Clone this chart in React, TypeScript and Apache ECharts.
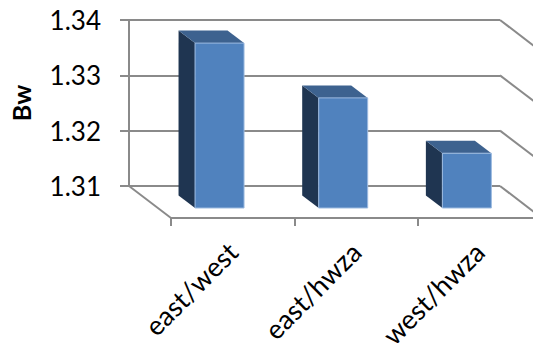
import React, { useEffect, useRef } from "react";
import * as echarts from "echarts";

const categories = ["east/west", "east/hwza", "west/hwza"];
const bwValues = [1.3398, 1.3299, 1.3199];
const axisLevels = [1.31, 1.32, 1.33, 1.34];

const WALL_COLOR = "#8a8a8a";
const FRONT_COLOR = "#5082be";
const SIDE_COLOR = "#1f3551";
const TOP_COLOR = "#3d628f";
const EDGE_COLOR = "#9dbbe0";
const FONT = "Lato, 'Noto Sans', sans-serif";

// Oblique projection used for the box faces and the floor edges.
const DEPTH_X = 16.5;
const DEPTH_Y = 12.5;
const FACE_WIDTH = 49;
const FRONT_SHIFT_X = 28.7;
const FRONT_SHIFT_Y = 22;
const FLOOR_DX = 42;
const FLOOR_DY = 32;

function renderBar(_params: any, api: any) {
  const [cx, yTop] = api.coord([api.value(0), api.value(1)]);
  const [, yBase] = api.coord([api.value(0), axisLevels[0]]);
  const left = cx + FRONT_SHIFT_X - FACE_WIDTH / 2;
  const right = left + FACE_WIDTH;
  const top = yTop + FRONT_SHIFT_Y;
  const bottom = yBase + FRONT_SHIFT_Y;
  return {
    type: "group",
    children: [
      {
        type: "polygon",
        shape: {
          points: [
            [left, top],
            [left - DEPTH_X, top - DEPTH_Y],
            [left - DEPTH_X, bottom - DEPTH_Y],
            [left, bottom],
          ],
        },
        style: { fill: SIDE_COLOR },
      },
      {
        type: "polygon",
        shape: {
          points: [
            [left, top],
            [left - DEPTH_X, top - DEPTH_Y],
            [right - DEPTH_X, top - DEPTH_Y],
            [right, top],
          ],
        },
        style: { fill: TOP_COLOR },
      },
      {
        type: "rect",
        shape: { x: left, y: top, width: FACE_WIDTH, height: bottom - top },
        style: { fill: FRONT_COLOR, stroke: EDGE_COLOR, lineWidth: 1 },
      },
    ],
  };
}

// Slanted continuation of each wall gridline at the right-hand side, plus the left floor edge.
function renderFloorEdge(params: any, api: any) {
  const sys = params.coordSys;
  const level = api.value(0);
  const [, y] = api.coord([0, level]);
  const lines: any[] = [
    {
      type: "line",
      shape: { x1: sys.x + sys.width, y1: y, x2: sys.x + sys.width + FLOOR_DX, y2: y + FLOOR_DY },
      style: { stroke: WALL_COLOR, lineWidth: 2 },
    },
  ];
  if (level === axisLevels[0]) {
    lines.push({
      type: "line",
      shape: { x1: sys.x, y1: y, x2: sys.x + FLOOR_DX, y2: y + FLOOR_DY },
      style: { stroke: WALL_COLOR, lineWidth: 2 },
    });
  }
  return { type: "group", children: lines };
}

export default function App() {
  const ref = useRef<HTMLDivElement>(null);

  useEffect(() => {
    if (!ref.current) return;
    const chart = echarts.init(ref.current, null, { renderer: "svg" });
    chart.setOption({
      animation: false,
      backgroundColor: "#ffffff",
      grid: [
        { left: 129, top: 20, width: 371, height: 166, outerBoundsMode: "none" },
        { left: 171, top: 52, width: 370, height: 166, outerBoundsMode: "none" },
      ],
      xAxis: [
        { gridIndex: 0, type: "category", data: categories, show: false },
        {
          gridIndex: 1,
          type: "category",
          data: categories,
          axisLine: { lineStyle: { color: WALL_COLOR, width: 2 } },
          axisTick: { show: true, length: 8, lineStyle: { color: WALL_COLOR, width: 2 } },
          axisLabel: {
            rotate: 45,
            margin: 29,
            interval: 0,
            fontFamily: FONT,
            fontSize: 27,
            color: "#000000",
            hideOverlap: false,
          },
        },
      ],
      yAxis: [
        {
          gridIndex: 0,
          type: "value",
          min: axisLevels[0],
          max: axisLevels[axisLevels.length - 1],
          interval: 0.01,
          name: "Bw",
          nameLocation: "middle",
          nameGap: 96,
          nameRotate: 90,
          nameTextStyle: { fontFamily: FONT, fontSize: 25, fontWeight: "bold", color: "#000000" },
          axisLine: { show: true, lineStyle: { color: WALL_COLOR, width: 2 } },
          axisTick: { show: true, length: 9, lineStyle: { color: WALL_COLOR, width: 2 } },
          axisLabel: {
            margin: 28,
            fontFamily: FONT,
            fontSize: 26,
            color: "#000000",
            formatter: (v: number) => v.toFixed(2),
          },
          splitLine: { show: true, lineStyle: { color: WALL_COLOR, width: 2 } },
        },
        {
          gridIndex: 1,
          type: "value",
          min: axisLevels[0],
          max: axisLevels[axisLevels.length - 1],
          show: false,
          splitLine: { show: false },
        },
      ],
      series: [
        {
          type: "custom",
          name: "edges",
          xAxisIndex: 0,
          yAxisIndex: 0,
          clip: false,
          z: 1,
          data: axisLevels.map((v) => [v]),
          encode: { y: 0 },
          renderItem: renderFloorEdge,
        },
        {
          type: "custom",
          name: "Bw",
          xAxisIndex: 0,
          yAxisIndex: 0,
          clip: false,
          z: 5,
          data: bwValues.map((v, i) => [i, v]),
          encode: { x: 0, y: 1 },
          renderItem: renderBar,
        },
      ],
    });
    return () => chart.dispose();
  }, []);

  return (
    <div
      ref={ref}
      style={{ position: "absolute", left: 0, top: 0, width: 533, height: 343 }}
    />
  );
}
